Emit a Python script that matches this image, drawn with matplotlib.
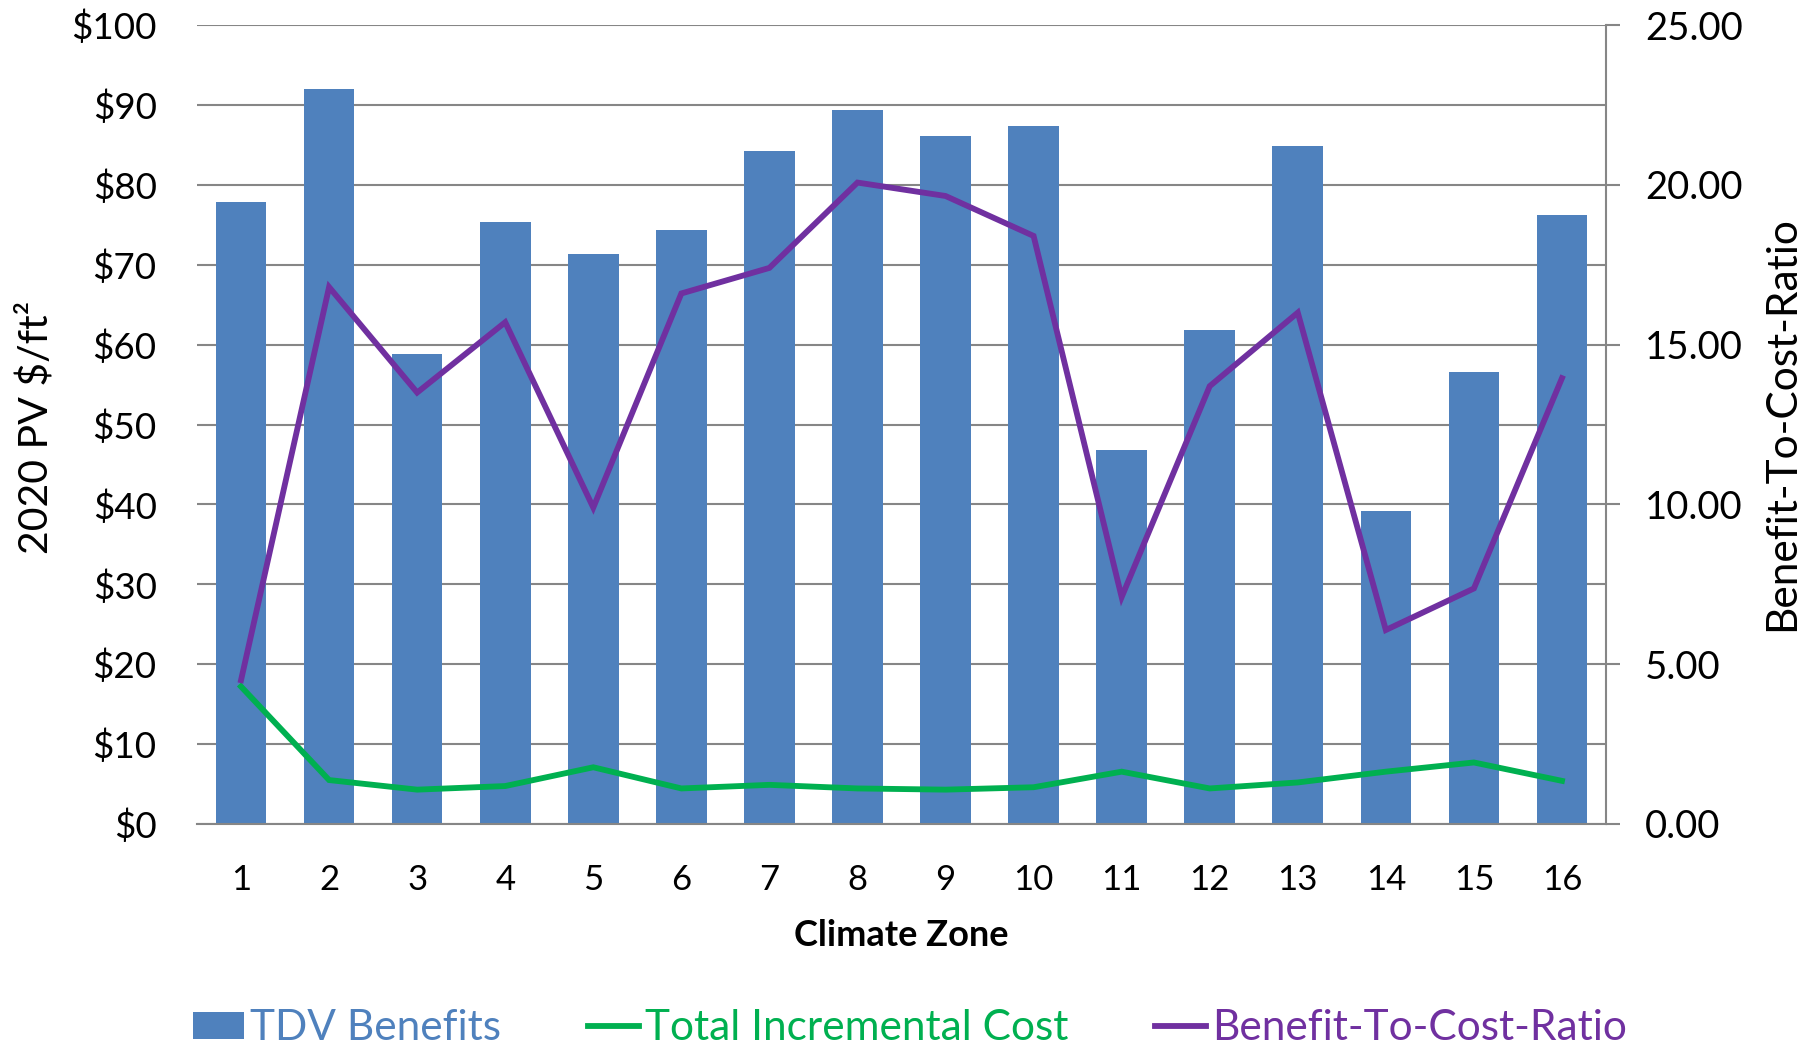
import matplotlib
matplotlib.use("Agg")
import matplotlib.pyplot as plt
from matplotlib.patches import Patch
from matplotlib.lines import Line2D
import numpy as np

zones = ["1", "2", "3", "4", "5", "6", "7", "8", "9", "10", "11", "12", "13", "14", "15", "16"]
tdv_benefits = [77.8, 92.0, 58.8, 75.4, 71.3, 74.4, 84.2, 89.4, 86.1, 87.3, 46.8, 61.8, 84.8, 39.2, 56.6, 76.2]
total_incremental_cost = [17.2, 5.5, 4.3, 4.75, 7.1, 4.45, 4.9, 4.45, 4.3, 4.6, 6.55, 4.45, 5.2, 6.55, 7.7, 5.4]
benefit_cost_ratio = [4.5, 16.8, 13.5, 15.7, 9.9, 16.6, 17.4, 20.07, 19.65, 18.4, 7.1, 13.7, 16.0, 6.07, 7.37, 13.95]
left_ticks = [0, 10, 20, 30, 40, 50, 60, 70, 80, 90, 100]
right_ticks = [0, 5, 10, 15, 20, 25]

plt.rcParams['font.family'] = ['Lato', 'DejaVu Sans']

BLUE = '#4F81BD'
GREEN = '#00B050'
PURPLE = '#7030A0'
GRID = '#868686'

fig = plt.figure(figsize=(18.2, 10.51), dpi=100)
ax = fig.add_axes([197/1820, 1-824/1051, 1409/1820, 799/1051])
ax2 = ax.twinx()

x = np.arange(len(zones))
ax.bar(x, tdv_benefits, width=0.575, color=BLUE, zorder=2)
ax.plot(x, total_incremental_cost, color=GREEN, lw=4.2, zorder=3, solid_joinstyle='miter')
ax2.plot(x, benefit_cost_ratio, color=PURPLE, lw=4.2, zorder=3, solid_joinstyle='miter')

ax.set_xlim(-0.5, len(zones) - 0.5)
ax.set_ylim(0, 100)
ax2.set_ylim(0, 25)
ax.set_yticks(left_ticks)
ax.set_yticklabels([f"${v}" for v in left_ticks])
ax2.set_yticks(right_ticks)
ax2.set_yticklabels([f"{v:.2f}" for v in right_ticks])
ax.set_xticks(x)
ax.set_xticklabels(zones)

ax.yaxis.grid(True, color=GRID, lw=1.5, zorder=0)
ax.set_axisbelow(True)
for s in ['left', 'top', 'right']:
    ax.spines[s].set_visible(False)
ax.spines['bottom'].set_color(GRID)
ax.spines['bottom'].set_linewidth(1.5)
for s in ['left', 'top', 'bottom']:
    ax2.spines[s].set_visible(False)
ax2.spines['right'].set_color(GRID)
ax2.spines['right'].set_linewidth(1.5)

ax.tick_params(axis='y', length=0, pad=29, labelsize=26.5)
ax.tick_params(axis='x', length=0, pad=29, labelsize=25)
ax2.tick_params(axis='y', length=10, width=1.5, color=GRID, pad=18, labelsize=27.5)
for lab in ax2.get_yticklabels():
    lab.set_ha('left')

fig.text(35/1820, 1-427/1051, "2020 PV $/ft²", rotation=90, ha='center', va='center', fontsize=29.5)
fig.text(1782/1820, 1-424/1051, "Benefit-To-Cost-Ratio", rotation=90, ha='center', va='center', fontsize=30.5)
fig.text(901/1820, 1-936/1051, "Climate Zone", ha='center', va='center', fontsize=26, fontweight='bold')

handles = [Patch(facecolor=BLUE, edgecolor='none'),
           Line2D([0], [0], color=GREEN, lw=4.2),
           Line2D([0], [0], color=PURPLE, lw=4.2)]
labels = ["TDV Benefits", "Total Incremental Cost", "Benefit-To-Cost-Ratio"]
leg = fig.legend(handles, labels, loc='center', bbox_to_anchor=(910/1820, 1-1028/1051),
                 ncol=3, frameon=False, fontsize=30.5, handlelength=1.2, handleheight=0.6,
                 handletextpad=0.14, columnspacing=2.05, borderaxespad=0, borderpad=0)
for t, c in zip(leg.get_texts(), [BLUE, GREEN, PURPLE]):
    t.set_color(c)

fig.savefig("out.png", dpi=100)
